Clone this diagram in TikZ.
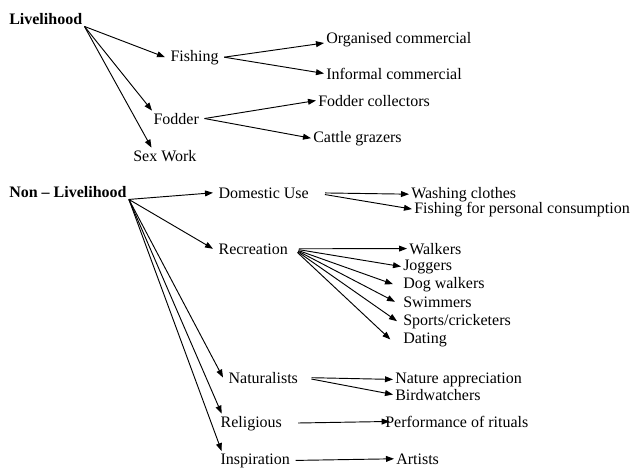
\documentclass[tikz,border=0pt]{standalone}
\usepackage{fontspec}
\setmainfont{Liberation Serif}
\usetikzlibrary{arrows.meta}

\begin{document}
\begin{tikzpicture}[x=0.75pt,y=-0.75pt,>={Triangle[length=6pt,width=4.4pt]},
  every node/.style={font=\fontsize{12}{14}\selectfont,inner sep=1.5pt,anchor=base west},
  root/.style={font=\fontsize{12}{14}\selectfont\bfseries},
  hub/.style={inner xsep=4pt},
  arr/.style={->,line width=0.7pt}]
  \useasboundingbox (0,0) rectangle (632,469);
  %
  % Livelihood
  \node[root] (liv) at (7,24) {Livelihood};
  \node[hub] (fish) at (165,61) {Fishing};
  \node[hub] (fod) at (148,124) {Fodder};
  \node (sex) at (131,161) {Sex Work};
  \node (org) at (324,43) {Organised commercial};
  \node (inf) at (324,79) {Informal commercial};
  \node (fc) at (316,106) {Fodder collectors};
  \node (cg) at (311,142) {Cattle grazers};
  %
  \draw[arr] (liv.south east) -- (fish.west);
  \draw[arr] (liv.south east) -- ([xshift=3pt]fod.north west);
  \draw[arr] (liv.south east) -- ([xshift=-10pt]sex.north);
  \draw[arr] (fish.east) -- (org.base west);
  \draw[arr] (fish.east) -- (inf.west);
  \draw[arr] (fod.east) -- (fc.west);
  \draw[arr] (fod.east) -- (cg.west);
  %
  % Non - Livelihood
  \node[root] (nonliv) at (7,197) {Non – Livelihood};
  \node[hub] (dom) at (213,198) {Domestic Use};
  \node[hub] (rec) at (213,254) {Recreation};
  \node[hub] (nat) at (223,383) {Naturalists};
  \node[hub] (rel) at (215,427) {Religious};
  \node[hub] (insp) at (215,464) {Inspiration};
  %
  \node (wash) at (409,198) {Washing clothes};
  \node (pers) at (412,213) {Fishing for personal consumption};
  \node (walk) at (407,254) {Walkers};
  \node (jog) at (401,270) {Joggers};
  \node (dog) at (401,288) {Dog walkers};
  \node (swim) at (401,307) {Swimmers};
  \node (sport) at (401,325) {Sports/cricketers};
  \node (date) at (401,343) {Dating};
  \node (natapp) at (393,383) {Nature appreciation};
  \node (bird) at (393,400) {Birdwatchers};
  \node (perf) at (383,427) {Performance of rituals};
  \node (art) at (394,464) {Artists};
  %
  \draw[arr] (nonliv.south east) -- (dom.west);
  \draw[arr] (nonliv.south east) -- (rec.west);
  \draw[arr] (nonliv.south east) -- (nat.west);
  \draw[arr] (nonliv.south east) -- ([xshift=5pt]rel.north west);
  \draw[arr] (nonliv.south east) -- ([xshift=5pt]insp.north west);
  %
  \draw[arr,shorten <=8pt] (dom.east) -- (wash.west);
  \draw[arr,shorten <=8pt] (dom.east) -- (pers.west);
  %
  \draw[arr,shorten <=4pt] (rec.east) -- (walk.west);
  \draw[arr,shorten <=4pt] (rec.east) -- (jog.west);
  \draw[arr,shorten <=4pt] (rec.east) -- ([xshift=-6pt]dog.west);
  \draw[arr,shorten <=4pt] (rec.east) -- ([xshift=-4.5pt]swim.west);
  \draw[arr,shorten <=4pt] (rec.east) -- ([xshift=-3pt]sport.west);
  \draw[arr,shorten <=4pt] (rec.east) -- ([xshift=-8pt]date.west);
  %
  \draw[arr,shorten <=6pt] (nat.east) -- (natapp.west);
  \draw[arr,shorten <=6pt] (nat.east) -- (bird.west);
  \draw[arr,shorten <=8pt] (rel.east) -- ([xshift=5pt]perf.west);
  \draw[arr] (insp.east) -- (art.west);
  %
\end{tikzpicture}
\end{document}
